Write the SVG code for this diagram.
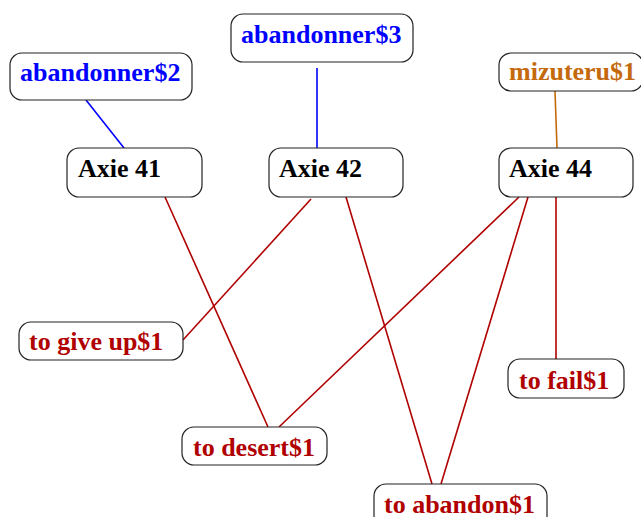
<svg xmlns="http://www.w3.org/2000/svg" width="641" height="517" viewBox="0 0 641 517">
<style>
.box{fill:#fff;stroke:#222;stroke-width:1.2}
text{font-family:"Liberation Serif","Times New Roman",serif;font-weight:bold;font-size:26px}
.blue{fill:#0000ff}.black{fill:#000}.orange{fill:#c46a0c}.red{fill:#b00000}
.eb{stroke:#0000ff;stroke-width:1.6;fill:none}
.eo{stroke:#c46a0c;stroke-width:1.6;fill:none}
.er{stroke:#b00000;stroke-width:1.6;fill:none}
</style>
<rect width="641" height="517" fill="#fff"/>
<g id="edges">
<line class="eb" x1="86" y1="100" x2="124" y2="148"/>
<line class="eb" x1="317" y1="68" x2="317" y2="148"/>
<line class="eo" x1="555" y1="91" x2="557" y2="148"/>
<line class="er" x1="165" y1="197" x2="268" y2="427"/>
<line class="er" x1="311" y1="199" x2="183" y2="340"/>
<line class="er" x1="346" y1="197" x2="432" y2="484"/>
<line class="er" x1="519" y1="197" x2="279" y2="427"/>
<line class="er" x1="528" y1="197" x2="441" y2="484"/>
<line class="er" x1="556" y1="197" x2="556" y2="359"/>
</g>
<g id="n_abandonner2"><rect class="box" x="10" y="53" width="182" height="47" rx="12"/><text class="blue" x="20" y="81">abandonner$2</text></g>
<g id="n_abandonner3"><rect class="box" x="231" y="14" width="182" height="48" rx="12"/><text class="blue" x="241" y="43">abandonner$3</text></g>
<g id="n_mizuteru1"><rect class="box" x="499" y="53" width="144" height="38" rx="12"/><text class="orange" x="509" y="80">mizuteru$1</text></g>
<g id="n_axie41"><rect class="box" x="67" y="148" width="135" height="49" rx="12"/><text class="black" x="78" y="177">Axie 41</text></g>
<g id="n_axie42"><rect class="box" x="269" y="148" width="134" height="49" rx="12"/><text class="black" x="279" y="177">Axie 42</text></g>
<g id="n_axie44"><rect class="box" x="499" y="148" width="134" height="49" rx="12"/><text class="black" x="509" y="177">Axie 44</text></g>
<g id="n_giveup"><rect class="box" x="19" y="322" width="164" height="38" rx="12"/><text class="red" x="29" y="350">to give up$1</text></g>
<g id="n_desert"><rect class="box" x="182" y="427" width="145" height="38" rx="12"/><text class="red" x="193" y="456">to desert$1</text></g>
<g id="n_fail"><rect class="box" x="508" y="359" width="116" height="39" rx="12"/><text class="red" x="519" y="389">to fail$1</text></g>
<g id="n_abandon"><rect class="box" x="374" y="484" width="173" height="44" rx="12"/><text class="red" x="384" y="513">to abandon$1</text></g>
</svg>
